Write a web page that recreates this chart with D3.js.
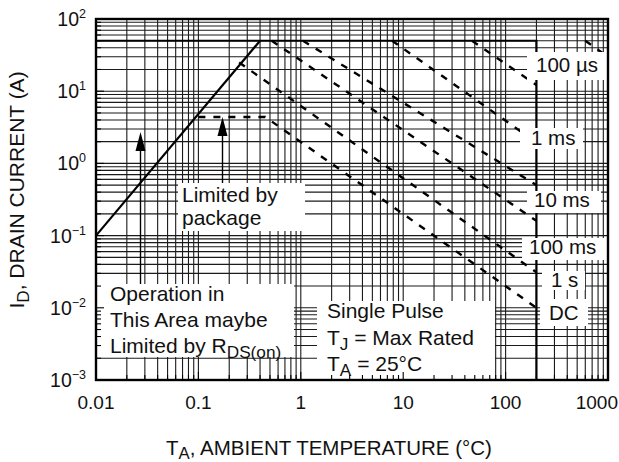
<!DOCTYPE html>
<html>
<head>
<meta charset="utf-8">
<script src="https://cdn.jsdelivr.net/npm/d3@7"></script>
<style>
  body { margin: 0; background: #fff; }
  svg { display: block; font-family: "Liberation Sans", Arial, sans-serif; }
</style>
</head>
<body>
<svg id="chart" width="619" height="462"></svg>
<script>
// tick values / labels
const xTicks = [0.01, 0.1, 1, 10, 100, 1000];
const xTickLabels = ["0.01", "0.1", "1", "10", "100", "1000"];
const yTicks = [0.001, 0.01, 0.1, 1, 10, 100];
const yTickExp = ["\u22123", "\u22122", "\u22121", "0", "1", "2"];

// R_DS(on) limit (solid)
const rdsV = [0.01, 0.4];
const rdsI = [0.1, 50];

// max current / max voltage limits (thick lines)
const currentMax = 50;
const voltageMax = 200;

// SOA curves (dashed)
const curveNames = ["100 \u00b5s", "1 ms", "10 ms", "100 ms", "1 s", "DC"];
const curveV = [
  [47, 200],
  [7.8, 200],
  [1.05, 200],
  [0.52, 200],
  [0.25, 200],
  [0.1, 0.45, 200]
];
const curveI = [
  [50, 12.2],
  [50, 1.95],
  [50, 0.5],
  [50, 0.16],
  [25, 0.031],
  [4.4, 4.4, 0.01]
];
// short unlabeled dashed piece at the top right corner
const cornerV = [600, 1000];
const cornerI = [50, 30];

const width = 619, height = 462;
const margin = { top: 19, right: 11, bottom: 82, left: 96 };

const svg = d3.select("#chart");

const x = d3.scaleLog().domain([0.01, 1000]).range([margin.left, width - margin.right]);
const y = d3.scaleLog().domain([0.001, 100]).range([height - margin.bottom, margin.top]);

// grid values 1..9 per decade
function logGrid(decades) {
  const out = [];
  decades.forEach(d => {
    for (let k = 1; k <= 9; k++) out.push(+(d * k).toPrecision(3));
  });
  return out;
}
const gridX = logGrid(xTicks.slice(0, -1)).concat([1000]);
const gridY = logGrid(yTicks.slice(0, -1)).concat([100]);

// grid
const grid = svg.append("g").attr("stroke", "#1a1a1a").attr("stroke-width", 1.1);
grid.selectAll(".gx").data(gridX).enter().append("line")
  .attr("x1", d => x(d)).attr("x2", d => x(d))
  .attr("y1", y(100)).attr("y2", y(0.001));
grid.selectAll(".gy").data(gridY).enter().append("line")
  .attr("x1", x(0.01)).attr("x2", x(1000))
  .attr("y1", d => y(d)).attr("y2", d => y(d));

// dashed SOA curves
const line = d3.line().x(d => x(d[0])).y(d => y(d[1]));
function dashed(vs, is) {
  svg.append("path")
    .attr("d", line(vs.map((v, j) => [v, is[j]])))
    .attr("fill", "none")
    .attr("stroke", "#000")
    .attr("stroke-width", 2.4)
    .attr("stroke-dasharray", "7,8");
}
curveV.forEach((vs, i) => dashed(vs, curveI[i]));
dashed(cornerV, cornerI);

// thick limit lines
svg.append("path")
  .attr("d", line([[0.01, currentMax], [voltageMax, currentMax], [voltageMax, 0.001]]))
  .attr("fill", "none").attr("stroke", "#000").attr("stroke-width", 2.2);

// R_DS(on) line
svg.append("path")
  .attr("d", line(rdsV.map((v, i) => [v, rdsI[i]])))
  .attr("fill", "none").attr("stroke", "#000").attr("stroke-width", 2.2);

// helper for text with sub/superscripts
function richText(g, px, py, parts, opts = {}) {
  const size = opts.size || 18.5;
  const t = g.append("text")
    .attr("x", px).attr("y", py)
    .attr("font-size", size)
    .attr("fill", "#111")
    .attr("text-anchor", opts.anchor || "start");
  if (opts.transform) t.attr("transform", opts.transform);
  let shift = 0;
  parts.forEach(p => {
    const s = t.append("tspan").text(p.t);
    let target = 0;
    if (p.sub) { target = opts.subDy || 5; s.attr("font-size", size * 0.82); }
    if (p.sup) { target = -8; s.attr("font-size", 12.5); }
    if (target !== shift) { s.attr("dy", target - shift); shift = target; }
  });
  return t;
}

// white label boxes
function box(x0, y0, x1, y1) {
  svg.append("rect").attr("x", x0).attr("y", y0)
    .attr("width", x1 - x0).attr("height", y1 - y0).attr("fill", "#fff");
}
const labelBoxes = [
  [527, 52, 607, 80, 536, 72],
  [520, 128, 583, 149, 531, 145],
  [527, 191, 601, 213, 534, 207],
  [522, 238, 607, 260, 529, 254],
  [542, 271, 585, 290, 551, 287],
  [540, 299, 588, 326, 549, 320]
];
labelBoxes.forEach((b, i) => {
  box(b[0], b[1], b[2], b[3]);
  richText(svg, b[4], b[5], [{ t: curveNames[i] }], { size: 20.5 });
});

box(178, 183, 305, 231);
richText(svg, 182, 202, [{ t: "Limited by" }], { size: 21 });
richText(svg, 182, 225, [{ t: "package" }], { size: 21 });

box(97, 284, 294, 357);
richText(svg, 110, 301, [{ t: "Operation in" }], { size: 21 });
richText(svg, 110, 327, [{ t: "This Area maybe" }], { size: 21 });
richText(svg, 110, 353, [{ t: "Limited by R" }, { t: "DS(on)", sub: true }], { size: 21 });

box(317, 301, 495, 379);
richText(svg, 327, 318, [{ t: "Single Pulse" }], { size: 21 });
richText(svg, 327, 345, [{ t: "T" }, { t: "J", sub: true }, { t: " = Max Rated" }], { size: 21 });
richText(svg, 327, 371, [{ t: "T" }, { t: "A", sub: true }, { t: " = 25\u00b0C" }], { size: 21 });

// arrows
function arrow(px, yTip, yTail) {
  svg.append("line").attr("x1", px).attr("x2", px)
    .attr("y1", yTip + 10).attr("y2", yTail)
    .attr("stroke", "#000").attr("stroke-width", 1.4);
  svg.append("path")
    .attr("d", `M${px},${yTip} L${px - 5},${yTip + 19} L${px + 5},${yTip + 19} Z`)
    .attr("fill", "#000");
}
arrow(140.5, 132, 284);
arrow(222.5, 117, 183);

// frame + inside ticks
const ax = svg.append("g").attr("stroke", "#000");
ax.selectAll(".tx").data(gridX).enter().append("line")
  .attr("x1", d => x(d)).attr("x2", d => x(d))
  .attr("y1", y(0.001)).attr("y2", d => y(0.001) - (xTicks.includes(d) ? 8 : 5))
  .attr("stroke-width", 1.1);
ax.selectAll(".ty").data(gridY).enter().append("line")
  .attr("x1", x(0.01)).attr("x2", d => x(0.01) + (yTicks.includes(d) ? 8 : 5))
  .attr("y1", d => y(d)).attr("y2", d => y(d))
  .attr("stroke-width", 1.1);
ax.append("rect")
  .attr("x", x(0.01)).attr("y", y(100))
  .attr("width", x(1000) - x(0.01)).attr("height", y(0.001) - y(100))
  .attr("fill", "none").attr("stroke-width", 2.4);

// tick labels
xTicks.forEach((v, i) => {
  const last = i === xTicks.length - 1;
  richText(svg, last ? 618 : x(v), 409, [{ t: xTickLabels[i] }],
    { anchor: last ? "end" : "middle", size: 19 });
});
yTicks.forEach((v, i) => {
  richText(svg, 86, y(v) + 7, [{ t: "10" }, { t: yTickExp[i], sup: true }],
    { anchor: "end", size: 19.5 });
});

// axis titles
richText(svg, 329, 455, [{ t: "T" }, { t: "A", sub: true }, { t: ", AMBIENT TEMPERATURE (\u00b0C)" }],
  { anchor: "middle", size: 20.5, subDy: 4 });
richText(svg, 0, 0, [{ t: "I" }, { t: "D", sub: true }, { t: ", DRAIN CURRENT (A)" }],
  { anchor: "middle", size: 21, transform: "translate(24,190) rotate(-90)" });
</script>
</body>
</html>
